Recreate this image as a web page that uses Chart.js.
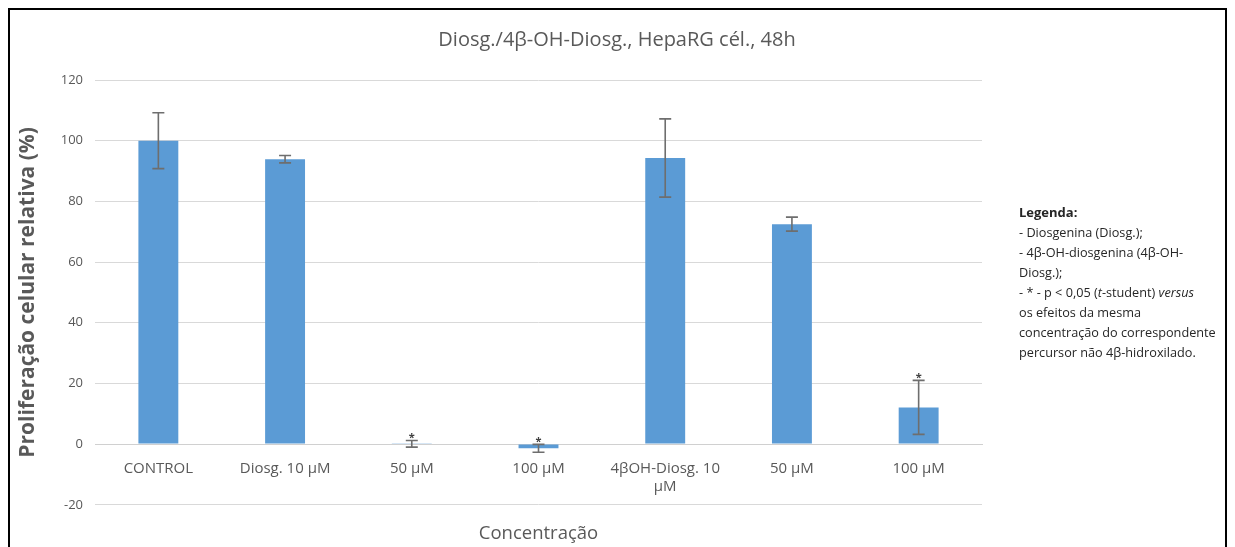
<!DOCTYPE html>
<html>
<head>
<meta charset="utf-8">
<script src="https://cdn.jsdelivr.net/npm/chart.js@4/dist/chart.umd.min.js"></script>
<style>
  html, body { margin: 0; padding: 0; background: #fff; }
  #wrap { width: 1235px; height: 547px; position: relative; }
</style>
</head>
<body>
<div id="wrap"><canvas id="c" width="1235" height="547"></canvas></div>
<script>
// ---- data ----
const categories = ['CONTROL', 'Diosg. 10 µM', '50 µM', '100 µM', ['4βOH-Diosg. 10', 'µM'], '50 µM', '100 µM'];
const values = [100, 93.9, 0.1, -1.4, 94.3, 72.5, 12.1];
const errors = [9.2, 1.2, 1.1, 1.3, 12.9, 2.3, 8.9];
const significant = [false, false, true, true, false, false, true];
const yMin = -20, yMax = 120, yStep = 20;

const chartTitle = 'Diosg./4β-OH-Diosg., HepaRG cél., 48h';
const yTitle = 'Proliferação celular relativa (%)';
const xTitle = 'Concentração';
const notesTitle = 'Legenda:';
const notesLines = [
  [['- Diosgenina (Diosg.);', false]],
  [['- 4β-OH-diosgenina (4β-OH-', false]],
  [['Diosg.);', false]],
  [['- * - p < 0,05 (', false], ['t', true], ['-student) ', false], ['versus', true]],
  [['os efeitos da mesma', false]],
  [['concentração do correspondente', false]],
  [['percursor não 4β-hidroxilado.', false]]
];

const FONT = "'Open Sans', 'Noto Sans', sans-serif";
const GREY = '#595959';

const extrasPlugin = {
  id: 'extras',
  afterDatasetsDraw(chart) {
    const ctx = chart.ctx;
    const xs = chart.scales.x, ys = chart.scales.y;
    ctx.save();
    for (let i = 0; i < values.length; i++) {
      const x = xs.getPixelForValue(i);
      const yt = ys.getPixelForValue(values[i] + errors[i]);
      const yb = ys.getPixelForValue(values[i] - errors[i]);
      ctx.strokeStyle = '#6e6e6e';
      ctx.lineWidth = 1.6;
      ctx.beginPath();
      ctx.moveTo(x, yt); ctx.lineTo(x, yb);
      ctx.moveTo(x - 6, yt); ctx.lineTo(x + 6, yt);
      ctx.moveTo(x - 6, yb); ctx.lineTo(x + 6, yb);
      ctx.stroke();
      if (significant[i]) {
        ctx.fillStyle = '#404040';
        ctx.font = 'bold 11px ' + FONT;
        ctx.textAlign = 'center';
        ctx.textBaseline = 'alphabetic';
        ctx.fillText('*', x, yt + 1);
      }
    }
    ctx.restore();
  },
  afterDraw(chart) {
    const ctx = chart.ctx;
    ctx.save();
    // notes block
    const x0 = 1019;
    let y = 213;
    ctx.textBaseline = 'middle';
    ctx.textAlign = 'left';
    ctx.fillStyle = '#262626';
    ctx.font = 'bold 13px ' + FONT;
    ctx.fillText(notesTitle, x0, y);
    for (const line of notesLines) {
      y += 20;
      let x = x0;
      for (const [txt, it] of line) {
        ctx.font = (it ? 'italic ' : '') + '12.7px ' + FONT;
        ctx.fillText(txt, x, y);
        x += ctx.measureText(txt).width;
      }
    }
    // frame
    ctx.strokeStyle = '#000';
    ctx.lineWidth = 2;
    ctx.strokeRect(9, 9, 1217, 600);
    ctx.restore();
  }
};

new Chart(document.getElementById('c'), {
  type: 'bar',
  data: {
    labels: categories,
    datasets: [{
      data: values,
      backgroundColor: '#5B9BD5',
      borderWidth: 0,
      categoryPercentage: 1,
      barPercentage: 0.315
    }]
  },
  options: {
    responsive: false,
    animation: false,
    events: [],
    layout: { padding: { left: 12, right: 13, top: 0, bottom: 0 } },
    plugins: {
      legend: { display: false },
      tooltip: { enabled: false },
      title: {
        display: true, text: chartTitle, color: GREY,
        font: { family: FONT, size: 20, weight: 'normal' },
        padding: { top: 28, bottom: 28 }
      },
      subtitle: {
        display: true, position: 'bottom', fullSize: false, text: xTitle, color: GREY,
        font: { family: FONT, size: 18.5, weight: 'normal' },
        padding: { top: 18, bottom: 2 }
      }
    },
    scales: {
      x: {
        position: { y: 0 },
        grid: { display: false, drawTicks: false },
        border: { display: true, color: '#d0d0d0', width: 1 },
        ticks: { color: GREY, font: { family: FONT, size: 15 }, padding: 16, maxRotation: 0, autoSkip: false }
      },
      y: {
        min: yMin, max: yMax,
        afterFit(s) { s.width = 83; },
        grid: { color: '#d9d9d9', lineWidth: 1, drawTicks: false },
        border: { display: false },
        ticks: { stepSize: yStep, color: GREY, font: { family: FONT, size: 13 }, padding: 12 },
        title: {
          display: true, text: yTitle, color: GREY,
          font: { family: FONT, size: 21, weight: 'bold' },
          padding: { top: 3, bottom: 4 }
        }
      },
      side: {
        type: 'linear', position: 'right', display: true,
        afterFit(s) { s.width = 240; },
        grid: { display: false, drawTicks: false },
        border: { display: false },
        ticks: { display: false }
      }
    }
  },
  plugins: [extrasPlugin]
});
</script>
</body>
</html>
